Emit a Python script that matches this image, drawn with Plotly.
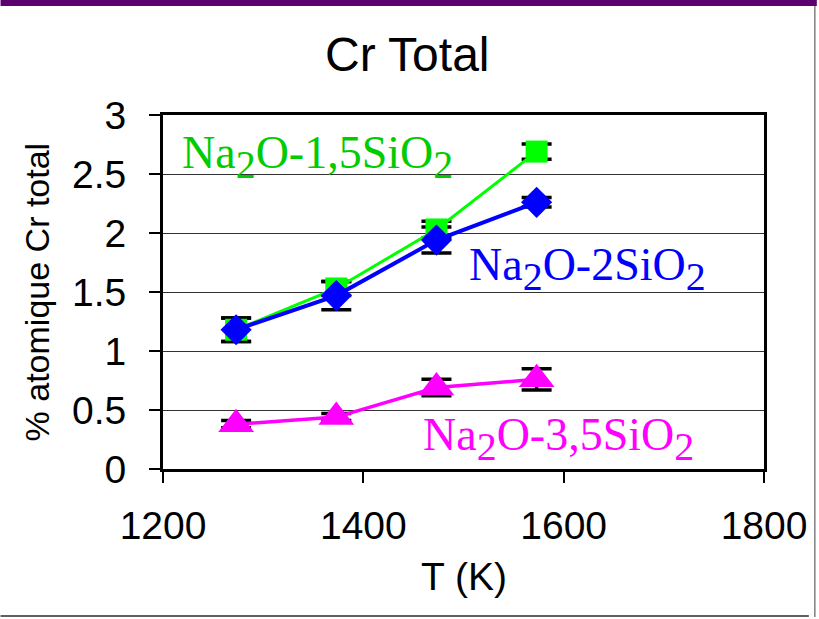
import plotly.graph_objects as go

# ---- data ----
T = [1273, 1373, 1473, 1573]
cr_15 = [1.18, 1.53, 2.03, 2.69]
err_15 = [0.10, 0.06, 0.07, 0.065]
cr_2 = [1.18, 1.47, 1.94, 2.26]
err_2 = [0.10, 0.12, 0.11, 0.04]
cr_35 = [0.38, 0.44, 0.69, 0.76]
err_35 = [0.03, 0.03, 0.07, 0.09]
x_ticks = [1200, 1400, 1600, 1800]
y_ticks = [0, 0.5, 1, 1.5, 2, 2.5, 3]

W, H = 819, 619
L, R, TOP, BOT = 163, 766, 115, 469


def px(x):
    return (x - L) / (R - L)


def py(y):
    return (BOT - y) / (BOT - TOP)


fig = go.Figure()

series = [
    (cr_15, err_15, "#00FF00", "square", 22, 3),
    (cr_2, err_2, "#0000FF", "diamond", 24, 4),
    (cr_35, err_35, "#FF00FF", "triangle-up", 31, 3.5),
]

# error bars first (drawn beneath the markers)
for y, err, color, symbol, size, lw in series:
    fig.add_trace(go.Scatter(
        x=T, y=y, mode="markers",
        marker=dict(size=1, opacity=0),
        error_y=dict(type="data", array=err, visible=True, color="black",
                     thickness=3.5, width=15),
        showlegend=False, hoverinfo="skip"))

for y, err, color, symbol, size, lw in series:
    fig.add_trace(go.Scatter(
        x=T, y=y, mode="lines+markers",
        line=dict(color=color, width=lw),
        marker=dict(symbol=symbol, size=size, color=color, line=dict(width=0)),
        showlegend=False))

sub = lambda s: '<sub><span style="font-size:40px">' + s + '</span></sub>'

ann_font = dict(family="Liberation Serif, Times New Roman, serif", size=46)
fig.add_annotation(x=px(180), y=py(157), xref="paper", yref="paper",
                   text="Na" + sub("2") + "O-1,5SiO" + sub("2"),
                   showarrow=False, xanchor="left", yanchor="middle",
                   font=dict(ann_font, color="#00CC00"))
fig.add_annotation(x=px(468), y=py(269), xref="paper", yref="paper",
                   text="Na" + sub("2") + "O-2SiO" + sub("2"),
                   showarrow=False, xanchor="left", yanchor="middle",
                   font=dict(ann_font, color="#0000FF"))
fig.add_annotation(x=px(422), y=py(439), xref="paper", yref="paper",
                   text="Na" + sub("2") + "O-3,5SiO" + sub("2"),
                   showarrow=False, xanchor="left", yanchor="middle",
                   font=dict(ann_font, color="#FF00FF"))

# axis titles
fig.add_annotation(x=px(37), y=py(292), xref="paper", yref="paper",
                   text="% atomique Cr total", textangle=-90, showarrow=False,
                   xanchor="center", yanchor="middle",
                   font=dict(family="Liberation Sans, Arial, sans-serif", size=34, color="black"))
fig.add_annotation(x=px(465), y=py(576), xref="paper", yref="paper",
                   text="T (K)", showarrow=False,
                   xanchor="center", yanchor="middle",
                   font=dict(family="Liberation Sans, Arial, sans-serif", size=39, color="black"))
fig.add_annotation(x=px(408), y=py(54), xref="paper", yref="paper",
                   text="Cr Total", showarrow=False,
                   xanchor="center", yanchor="middle",
                   font=dict(family="Liberation Sans, Arial, sans-serif", size=48, color="black"))

# slide frame decorations
fig.add_shape(type="rect", xref="paper", yref="paper",
              x0=px(0), x1=px(W), y0=py(0), y1=py(6),
              fillcolor="#5C0070", line=dict(width=0), layer="above")
fig.add_shape(type="line", xref="paper", yref="paper",
              x0=px(817), x1=px(817), y0=py(6), y1=py(617),
              line=dict(color="#7F7F7F", width=1.5))
fig.add_shape(type="line", xref="paper", yref="paper",
              x0=px(0), x1=px(811), y0=py(616), y1=py(616),
              line=dict(color="#606060", width=2))

axis_font = dict(family="Liberation Sans, Arial, sans-serif", size=39, color="black")
fig.update_layout(
    width=W, height=H,
    margin=dict(l=L, r=W - R, t=TOP, b=H - BOT, pad=0),
    paper_bgcolor="white", plot_bgcolor="white",
    xaxis=dict(range=[1200, 1800], tickvals=x_ticks, ticktext=[str(v) for v in x_ticks],
               ticks="outside", ticklen=11, tickwidth=1.5, tickcolor="black",
               ticklabelstandoff=9,
               showline=True, linewidth=3, linecolor="black", mirror=True,
               showgrid=False, zeroline=False, tickfont=axis_font),
    yaxis=dict(range=[0, 3], tickvals=y_ticks, ticktext=[("%g" % v) for v in y_ticks],
               ticks="outside", ticklen=11, tickwidth=1.5, tickcolor="black",
               ticklabelstandoff=15,
               showline=True, linewidth=3, linecolor="black", mirror=True,
               showgrid=True, gridcolor="#333333", gridwidth=1,
               zeroline=False, tickfont=axis_font),
)

fig.write_html("out.html", config={"displayModeBar": False},
               post_script="document.body.style.margin='0';")
